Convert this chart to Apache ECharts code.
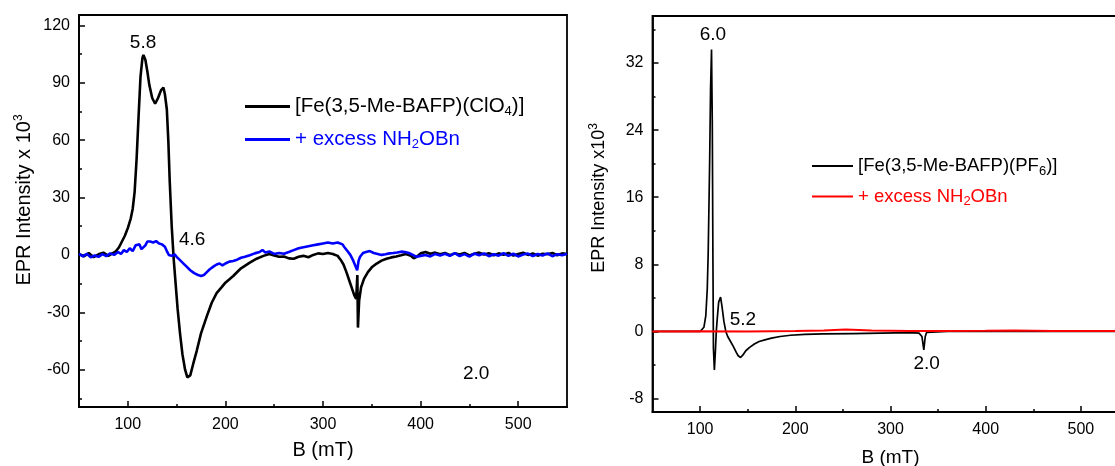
<!DOCTYPE html>
<html>
<head>
<meta charset="utf-8">
<script src="https://cdn.jsdelivr.net/npm/echarts@6/dist/echarts.min.js"></script>
<style>html,body{margin:0;padding:0;background:#fff}#c{width:1115px;height:466px}</style>
</head>
<body>
<div id="c"></div>
<script>
// ---------- DATA ----------
const SERIES_NAMES_LEFT = ['[Fe(3,5-Me-BAFP)(ClO{sub|4})]', '+ excess NH{sub|2}OBn'];
const SERIES_NAMES_RIGHT = ['[Fe(3,5-Me-BAFP)(PF{sub|6})]', '+ excess NH{sub|2}OBn '];

const LEFT_BLACK_B = [50,55,60,65,70,75,80,85,88,91,94,97,100,103,105,107,109,111,113,115,116,118,120,122,125,128,131,134,136.5,138,140,141.5,143,145,147,149,151,153.5,156,158.7,161,162.5,164,167,170.7,175,181,186,191,196,200,208,216,225,232,239,245,250,255,260,265,270,275,280,285,290,295,300,305,310,315,318,321,324,327,330,332,334,335.2,335.8,337,339,342,346,350,355,360,365,370,375,380,385,390,393,396,400,405,410,415,420,425,430,435,440,445,450,455,460,465,470,475,480,485,490,495,500,505,510,515,520,525,530,535,540,545,550];
const LEFT_BLACK_I = [0.5,-0.8,1.0,-1.2,0.3,1.2,-0.5,1.0,2,4,7,10,14,19,24,33,50,72,93,103,104.5,102,96,89,82,79,82,86,87.5,84,76,60,38,15,-2,-15,-28,-41,-52,-60,-64,-65,-63,-57,-50,-41,-32,-25,-20,-17,-14.5,-11,-7,-4,-2,-0.5,0.5,-0.3,-1,-0.8,-1.8,-2,-1,-0.5,-1.2,0,0.8,0.5,1,0.5,-0.5,-2.5,-5,-9,-13.5,-18,-21,-23,-10.5,-38,-24,-17,-12.5,-9,-6.5,-4.5,-3,-2,-1.3,-0.8,-0.2,0.5,-0.5,-1.8,-1,0.8,1.5,0.6,1.2,0.3,1.0,-0.2,0.8,0.2,1,-0.3,0.6,1.2,0.2,0.9,-0.2,0.8,0.1,1.0,-0.3,0.5,1.1,0,0.7,-0.4,0.6,0.3,1.0,-0.2,0.8,0.4];

const LEFT_BLUE_B = [50,54,58,62,66,70,74,78,82,86,90,93,96,99,102,105,108,110,112,114,116,118,120,123,126,129,132,135,138,140,142,145,148,150,153,156,160,164,168,172,175,178,181,184,188,191,194,197,200,204,208,212,216,220,225,230,235,238,241,245,250,255,260,265,270,275,280,285,290,295,300,305,310,315,320,322,325,328,331,333,335,336.5,338,341,344,348,352,356,360,364,368,372,376,380,384,388,392,396,400,405,410,415,420,425,430,435,440,445,450,455,460,465,470,475,480,485,490,495,500,505,510,515,520,525,530,535,540,545,550];
const LEFT_BLUE_I = [0.5,-0.8,0.6,-1.2,-0.3,-1,0.4,-0.6,0.8,0,1.5,0.5,2.5,1.5,3.5,2,5,4,5.5,3,2.5,5,7,7,6.5,7.2,6,5.5,4.3,2,0,-0.5,0.3,-1,-2.5,-4,-6,-8,-9.5,-10.5,-11,-10.5,-9,-7.5,-6,-5,-4.5,-5.5,-4.5,-3.5,-3.2,-2.5,-1.5,-1,-0.2,0.8,1.5,2.6,1.2,1.8,0.5,1,0.6,1.5,2.5,3.5,4,4.5,5,5.5,6,6.5,6,6.5,5.5,4,2,0,-3,-5.5,-8,-3,-1,1,1.5,2,1,0.5,0,0.3,0.8,1,1.3,1.7,1.5,1,0,-1,-0.5,0,-0.8,0.5,-0.3,0.6,-0.5,0.9,-0.6,0.4,-0.9,0.7,-0.2,0.8,-0.7,0.3,-0.4,0.9,-0.5,0.6,-0.8,0.2,0.7,-0.6,0.5,-0.3,0.8,-0.7,0.4,-0.2,0.6];

const RIGHT_BLACK_B = [50,100,102,104,106,107.5,108.5,110,111,112,112.8,113.5,114,115,116,117,118,119.5,121.5,123,125,127,129,132,135,138,140,142.5,145,148,152,157,162,168,175,184,195,210,230,260,290,320,330,333,335,336.5,338,360,400,450,500,550];
const RIGHT_BLACK_I = [0,0,0.1,0.5,1.9,5,9.3,20,29,33.6,25,8,-2,-4.6,-2.5,0,1.5,3.5,4.1,3,1.2,0,-0.6,-1.2,-1.8,-2.5,-2.9,-3.1,-2.8,-2.3,-1.9,-1.5,-1.2,-1.0,-0.8,-0.6,-0.45,-0.35,-0.3,-0.25,-0.2,-0.15,-0.2,-0.6,-2.2,-0.6,-0.1,0,0,0,0,0];

const RIGHT_RED_B = [50,100,150,200,230,253,280,320,350,400,430,470,500,550];
const RIGHT_RED_I = [0,0.02,0,0.05,0.1,0.22,0.1,0.05,0.05,0.08,0.12,0.06,0.05,0.05];

const X_TICKS = [100,200,300,400,500];
const X_MINOR = [150,250,350,450];
const LEFT_Y_TICKS = [-60,-30,0,30,60,90,120];
const LEFT_Y_MINOR = [-75,-45,-15,15,45,75,105];
const RIGHT_Y_TICKS = [-8,0,8,16,24,32];
const RIGHT_Y_MINOR = [-4,4,12,20,28,36];

const LEFT_LABELS = [['5.8',115.6,110.8],['4.6',166,7.8],['2.0',457,-62]];
const RIGHT_LABELS = [['6.0',113.5,35.4],['5.2',145,1.4],['2.0',338,-3.9]];

// ---------- CHART ----------
const FONT = 'Liberation Sans, Arial, sans-serif';
const zip = (a, b) => a.map((v, i) => [v, b[i]]);
const rich = {
  sub: {fontSize: 13, fontFamily: FONT, padding: [10, 0, 0, 0]},
  sup: {fontSize: 12, fontFamily: FONT, padding: [0, 0, 11, 0]}
};

function xAxes(gi, name, gap, nameSize) {
  return [{
    type: 'value', gridIndex: gi, min: 50, max: 550, position: 'bottom',
    name: name, nameLocation: 'middle', nameGap: gap,
    nameTextStyle: {fontSize: nameSize, fontFamily: FONT, color: '#000'},
    axisLine: {show: true, onZero: false, lineStyle: {color: '#000', width: 1.8}},
    axisTick: {show: true, inside: true, length: 6, customValues: X_TICKS, lineStyle: {color: '#000', width: 1.5}},
    axisLabel: {customValues: X_TICKS, fontSize: 16, fontFamily: FONT, color: '#000', margin: 10},
    splitLine: {show: false}
  }, {
    type: 'value', gridIndex: gi, min: 50, max: 550, position: 'bottom',
    axisLine: {show: false, onZero: false},
    axisTick: {show: true, inside: true, length: 3, customValues: X_MINOR, lineStyle: {color: '#000', width: 1.5}},
    axisLabel: {show: false, customValues: X_MINOR},
    splitLine: {show: false}
  }];
}
function yAxes(gi, min, max, major, minor, name, gap, nameSize, shift) {
  return [{
    type: 'value', gridIndex: gi, min: min, max: max, position: 'left',
    name: name, nameLocation: 'middle', nameGap: gap, nameRotate: 90,
    nameTextStyle: {fontSize: nameSize, fontFamily: FONT, color: '#000', rich: rich, padding: [0, 0, 0, shift]},
    axisLine: {show: true, onZero: false, lineStyle: {color: '#000', width: 1.8}},
    axisTick: {show: true, inside: true, length: 6, customValues: major, lineStyle: {color: '#000', width: 1.5}},
    axisLabel: {customValues: major, fontSize: 16, fontFamily: FONT, color: '#000', margin: 9},
    splitLine: {show: false}
  }, {
    type: 'value', gridIndex: gi, min: min, max: max, position: 'left',
    axisLine: {show: false, onZero: false},
    axisTick: {show: true, inside: true, length: 3, customValues: minor, lineStyle: {color: '#000', width: 1.5}},
    axisLabel: {show: false, customValues: minor},
    splitLine: {show: false}
  }];
}
function marks(labels) {
  return {
    symbol: 'rect', symbolSize: 1, silent: true,
    itemStyle: {color: 'rgba(0,0,0,0)'},
    label: {show: true, position: 'inside', formatter: '{b}', fontSize: 19, fontFamily: FONT, color: '#000'},
    data: labels.map(l => ({name: l[0], coord: [l[1], l[2]]}))
  };
}

const chart = echarts.init(document.getElementById('c'), null, {renderer: 'canvas'});
chart.setOption({
  animation: false,
  backgroundColor: '#fff',
  grid: [
    {left: 79, top: 15, width: 488, height: 392, show: true, borderColor: '#000', borderWidth: 1.8, containLabel: false, outerBoundsMode: 'none'},
    {left: 652.5, top: 16, right: -13.5, height: 396, show: true, borderColor: '#000', borderWidth: 1.8, containLabel: false, outerBoundsMode: 'none'}
  ],
  xAxis: [...xAxes(0, 'B (mT)', 33, 20), ...xAxes(1, 'B (mT)', 36, 19)],
  yAxis: [
    ...yAxes(0, -79.5, 125.4, LEFT_Y_TICKS, LEFT_Y_MINOR, 'EPR Intensity x 10{sup|3}', 43, 20, 22),
    ...yAxes(1, -9.6, 37.6, RIGHT_Y_TICKS, RIGHT_Y_MINOR, 'EPR Intensity x10{sup|3}', 42, 18, 32)
  ],
  legend: [{
    orient: 'vertical', left: 240, top: 90, itemWidth: 45, itemHeight: 3, itemGap: 10,
    icon: 'rect', selectedMode: false,
    textStyle: {fontSize: 20.5, fontFamily: FONT, color: '#000', lineHeight: 23, rich: rich},
    data: [
      {name: SERIES_NAMES_LEFT[0], textStyle: {color: '#000'}},
      {name: SERIES_NAMES_LEFT[1], textStyle: {color: '#0000ff'}}
    ]
  }, {
    orient: 'vertical', left: 807, top: 150, itemWidth: 41, itemHeight: 2, itemGap: 8,
    icon: 'rect', selectedMode: false,
    textStyle: {fontSize: 18.5, fontFamily: FONT, color: '#000', lineHeight: 22, rich: rich},
    data: [
      {name: SERIES_NAMES_RIGHT[0], textStyle: {color: '#000'}},
      {name: SERIES_NAMES_RIGHT[1], textStyle: {color: '#ff0000'}}
    ]
  }],
  series: [
    {name: SERIES_NAMES_LEFT[0], type: 'line', xAxisIndex: 0, yAxisIndex: 0, data: zip(LEFT_BLACK_B, LEFT_BLACK_I),
     showSymbol: false, symbol: 'none', lineStyle: {color: '#000', width: 2.6}, itemStyle: {color: '#000'}, markPoint: marks(LEFT_LABELS)},
    {name: SERIES_NAMES_LEFT[1], type: 'line', xAxisIndex: 0, yAxisIndex: 0, data: zip(LEFT_BLUE_B, LEFT_BLUE_I),
     showSymbol: false, symbol: 'none', lineStyle: {color: '#0000ff', width: 2.6}, itemStyle: {color: '#0000ff'}},
    {name: SERIES_NAMES_RIGHT[0], type: 'line', xAxisIndex: 2, yAxisIndex: 2, data: zip(RIGHT_BLACK_B, RIGHT_BLACK_I),
     showSymbol: false, symbol: 'none', lineStyle: {color: '#000', width: 1.7}, itemStyle: {color: '#000'}, markPoint: marks(RIGHT_LABELS)},
    {name: SERIES_NAMES_RIGHT[1], type: 'line', xAxisIndex: 2, yAxisIndex: 2, data: zip(RIGHT_RED_B, RIGHT_RED_I),
     showSymbol: false, symbol: 'none', lineStyle: {color: '#ff0000', width: 2}, itemStyle: {color: '#ff0000'}}
  ]
});
</script>
</body>
</html>
